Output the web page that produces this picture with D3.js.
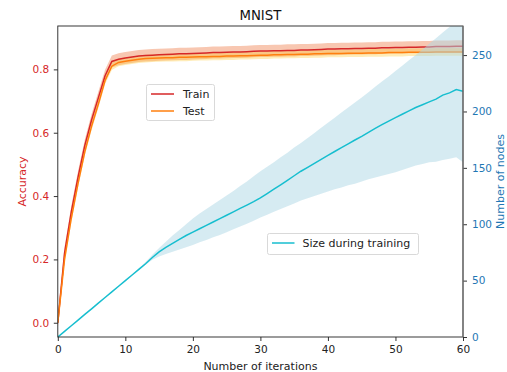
<!DOCTYPE html>
<html><head><meta charset="utf-8">
<script src="https://cdn.jsdelivr.net/npm/d3@7"></script>
<style>
body{margin:0;background:#fff;}
text{font-family:"DejaVu Sans",sans-serif;}
</style></head>
<body><svg id="c" width="507" height="372"></svg>
<script>
const title = "MNIST";
const xLabel = "Number of iterations";
const yLeftLabel = "Accuracy";
const yRightLabel = "Number of nodes";
const xTicks = [0,10,20,30,40,50,60];
const yLeftTicks = [0.0,0.2,0.4,0.6,0.8];
const yRightTicks = [0,50,100,150,200,250];

const iterations = d3.range(0,61);
const trainAcc = [0,0.22,0.35,0.46,0.56,0.64,0.71,0.78,0.825,0.832,0.836,0.839,0.842,0.844,0.845,0.846,0.847,0.848,0.849,0.849,0.850,
  0.851,0.852,0.853,0.853,0.854,0.855,0.855,0.856,0.857,0.858,0.858,0.859,0.859,0.860,0.860,0.861,0.861,0.862,0.863,0.864,
  0.864,0.865,0.865,0.866,0.866,0.867,0.867,0.868,0.868,0.869,0.869,0.870,0.870,0.871,0.871,0.872,0.872,0.872,0.873,0.873];
const testAcc = [0,0.20,0.33,0.44,0.54,0.62,0.69,0.765,0.81,0.822,0.826,0.829,0.832,0.834,0.835,0.836,0.837,0.837,0.838,0.838,0.839,
  0.840,0.840,0.841,0.841,0.842,0.842,0.843,0.843,0.844,0.845,0.845,0.846,0.846,0.847,0.847,0.848,0.848,0.849,0.849,0.850,
  0.850,0.850,0.851,0.851,0.851,0.852,0.852,0.852,0.853,0.853,0.853,0.854,0.854,0.854,0.854,0.855,0.855,0.855,0.855,0.855];
const trainSpread = 0.019;
const testSpread = 0.012;

const sizeMean = [0,5,10,15,20,25,30,35,40,45,50,55,60,65,70.5,75.5,79.5,83,86.5,90,93,
  96,99,102,105,108,111,114,117,120,123.3,127.2,131.1,135,139,143,147,150.5,154,157.5,161,
  164.5,168,171.3,174.7,178,181.5,185,188.3,191.5,194.5,197.5,200.5,203.5,206,208.5,211,214.5,216.5,219.5,218];
const sizeUpper = [0,5,10,15,20,25,30,35,40,45,50,55,61,66.5,73,79,84.5,90,95,100,105,
  109.5,113.5,117.5,121.5,125.5,129.5,134,138,142.5,147,151,155,159.5,163.5,168,172,176.5,181,185.5,190,
  194.5,199,203.5,208,212.5,217,222,226.5,231,236,240.5,245.5,250,255,260,265,270,275,281,279];
const sizeLower = [0,5,10,15,20,25,30,35,40,45,50,55,59.5,64,68.5,71.5,73.5,75.5,77.5,79.5,81.5,
  84,86,88.5,90.5,93,95.5,98,100.5,103,106,108.5,111,113.5,116,118.5,121,123,125,127,129,
  131,132.5,134.5,136,138,140,141.5,143,144.5,146,148,150,152,153.5,155,155.5,157,158,159.5,155];

const svg = d3.select("#c");
const L = 57.8, R = 463, T = 26, B = 337;
const x = d3.scaleLinear().domain([0,60]).range([L,R]);
const yL = d3.scaleLinear().domain([-0.045,0.937]).range([B,T]);
const yR = d3.scaleLinear().domain([0,275.8]).range([B,T]);

svg.append("defs").append("clipPath").attr("id","clip")
  .append("rect").attr("x",L).attr("y",T).attr("width",R-L).attr("height",B-T);

const g1 = svg.append("g").attr("clip-path","url(#clip)");
const area = (yS, lo, hi) => d3.area().x((d,i)=>x(iterations[i])).y0((d,i)=>yS(lo[i])).y1((d,i)=>yS(hi[i]));
const line = (yS, v) => d3.line().x((d,i)=>x(iterations[i])).y((d,i)=>yS(v[i]));

g1.append("path").datum(trainAcc)
  .attr("d", area(yL, trainAcc.map(v=>v-trainSpread), trainAcc.map(v=>v+trainSpread)))
  .attr("fill","#ef7a45").attr("opacity",0.42);
g1.append("path").datum(testAcc)
  .attr("d", area(yL, testAcc.map(v=>v-testSpread), testAcc.map(v=>v+testSpread)))
  .attr("fill","#ffc933").attr("opacity",0.35);
g1.append("path").datum(trainAcc).attr("d", line(yL, trainAcc))
  .attr("fill","none").attr("stroke","#d62728").attr("stroke-width",1.5);
g1.append("path").datum(testAcc).attr("d", line(yL, testAcc))
  .attr("fill","none").attr("stroke","#ff7f0e").attr("stroke-width",1.5);

// legend 1
const lg1 = svg.append("g");
lg1.append("rect").attr("x",146.5).attr("y",84.5).attr("width",68).attr("height",36).attr("rx",2)
  .attr("fill","#fff").attr("fill-opacity",0.8).attr("stroke","#d9d9d9");
[["Train","#d62728",94],["Test","#ff7f0e",111]].forEach(([t,c,yy])=>{
  lg1.append("line").attr("x1",151).attr("x2",174).attr("y1",yy).attr("y2",yy).attr("stroke",c).attr("stroke-width",1.5);
  lg1.append("text").attr("x",183).attr("y",yy+4).attr("font-size",11).attr("fill","#222").text(t);
});

const g2 = svg.append("g").attr("clip-path","url(#clip)");
g2.append("path").datum(sizeMean).attr("d", area(yR, sizeLower, sizeUpper))
  .attr("fill","#add8e6").attr("opacity",0.5);
g2.append("path").datum(sizeMean).attr("d", line(yR, sizeMean))
  .attr("fill","none").attr("stroke","#17becf").attr("stroke-width",1.5);

// legend 2
const lg2 = svg.append("g");
lg2.append("rect").attr("x",267.5).attr("y",233.5).attr("width",151).attr("height",21).attr("rx",2)
  .attr("fill","#fff").attr("fill-opacity",0.8).attr("stroke","#d9d9d9");
lg2.append("line").attr("x1",272).attr("x2",294.5).attr("y1",243).attr("y2",243).attr("stroke","#17becf").attr("stroke-width",1.5);
lg2.append("text").attr("x",302.5).attr("y",247).attr("font-size",11).attr("fill","#222").text("Size during training");

// axes
const ax = svg.append("g").attr("transform",`translate(0,${B})`)
  .call(d3.axisBottom(x).tickValues(xTicks).tickSize(4).tickPadding(5).tickFormat(d3.format("d")));
ax.selectAll("text").attr("font-size",10.5).attr("fill","#222").style("font-family","DejaVu Sans");
ax.selectAll("line").attr("stroke","#333");
ax.select(".domain").remove();

const ayl = svg.append("g").attr("transform",`translate(${L},0)`)
  .call(d3.axisLeft(yL).tickValues(yLeftTicks).tickSize(4).tickPadding(4.5).tickFormat(d3.format(".1f")));
ayl.selectAll("text").attr("font-size",10.5).attr("fill","#d62728").style("font-family","DejaVu Sans");
ayl.selectAll("line").attr("stroke","#333");
ayl.select(".domain").remove();

const ayr = svg.append("g").attr("transform",`translate(${R},0)`)
  .call(d3.axisRight(yR).tickValues(yRightTicks).tickSize(4).tickPadding(5).tickFormat(d3.format("d")));
ayr.selectAll("text").attr("font-size",10.5).attr("fill","#1f77b4").style("font-family","DejaVu Sans");
ayr.selectAll("line").attr("stroke","#333");
ayr.select(".domain").remove();

// spines
svg.append("rect").attr("x",L).attr("y",T).attr("width",R-L).attr("height",B-T)
  .attr("fill","none").attr("stroke","#222").attr("stroke-width",0.9);
svg.append("line").attr("x1",R).attr("x2",R).attr("y1",T).attr("y2",B).attr("stroke","#777").attr("stroke-width",1.3);

svg.append("text").attr("x",(L+R)/2).attr("y",20).attr("text-anchor","middle").attr("font-size",13.3).attr("fill","#111").text(title);
svg.append("text").attr("x",(L+R)/2).attr("y",369.5).attr("text-anchor","middle").attr("font-size",11).attr("fill","#222").text(xLabel);
svg.append("text").attr("transform",`translate(25.5,${(T+B)/2}) rotate(-90)`).attr("text-anchor","middle").attr("font-size",11).attr("fill","#d62728").text(yLeftLabel);
svg.append("text").attr("transform",`translate(504,${(T+B)/2}) rotate(-90)`).attr("text-anchor","middle").attr("font-size",11).attr("fill","#1f77b4").text(yRightLabel);
</script></body></html>
